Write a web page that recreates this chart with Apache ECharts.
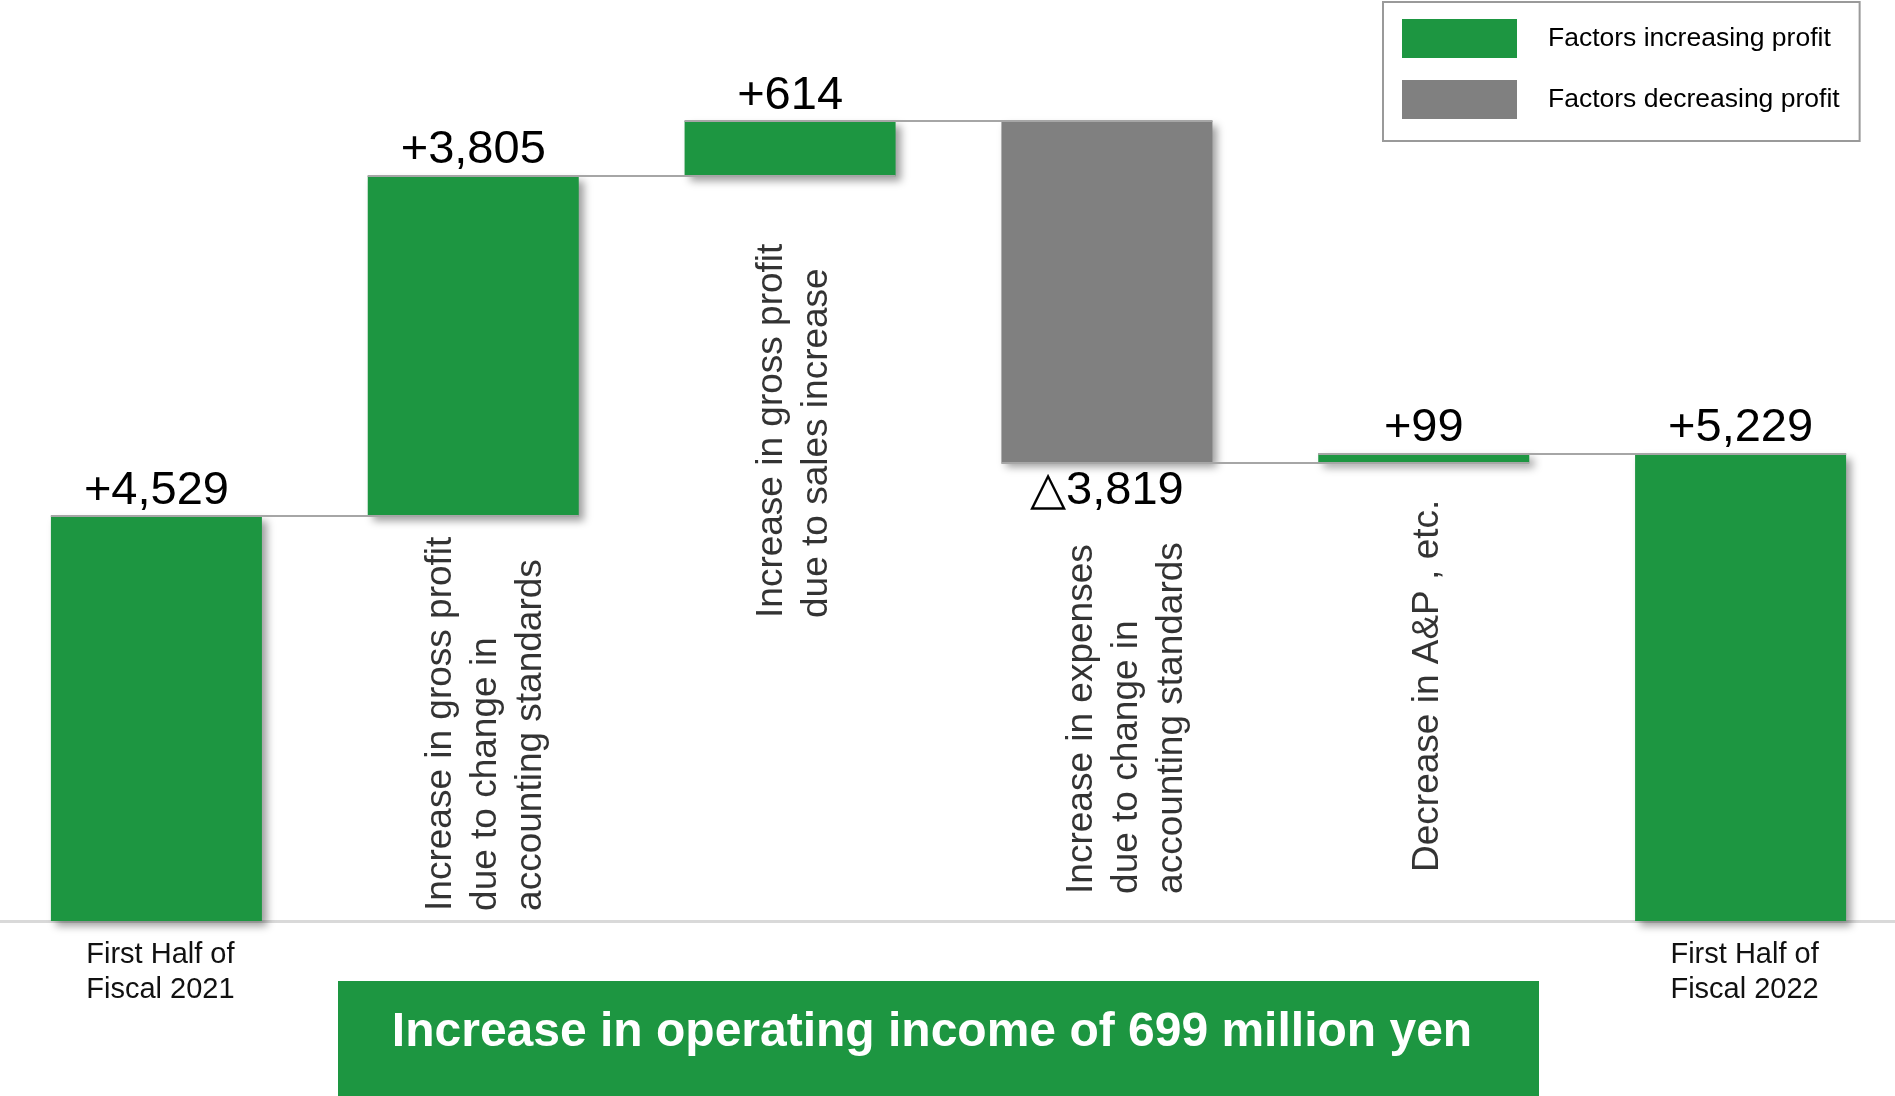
<!DOCTYPE html>
<html>
<head>
<meta charset="utf-8">
<title>Operating income bridge</title>
<script src="https://cdn.jsdelivr.net/npm/echarts@6/dist/echarts.min.js"></script>
<style>
  html, body { margin: 0; padding: 0; background: #ffffff; }
  #chart { width: 1895px; height: 1096px; }
</style>
</head>
<body>
<div id="chart"></div>
<script>
// ---- data (million yen) ----
const categories = [
  'First Half of\nFiscal 2021',
  'Increase in gross profit\ndue to change in\naccounting standards',
  'Increase in gross profit\ndue to sales increase',
  'Increase in expenses\ndue to change in\naccounting standards',
  'Decrease in A&P , etc.',
  'First Half of\nFiscal 2022'
];
const changes = [4529, 3805, 614, -3819, 99, 5229];
const isTotal = [true, false, false, false, false, true];
const seriesNames = ['Factors increasing profit', 'Factors decreasing profit'];
const summaryText = 'Increase in operating income of 699 million yen';

// ---- layout ----
const FONT = '"Liberation Sans", Arial, Helvetica, sans-serif';
const GREEN = '#1d9641';
const GREY = '#808080';
// where the rotated factor captions start (value units) and their sideways nudge (px)
const captionBase = { 1: 107, 2: 3384, 3: 297, 4: 543 };
const captionShift = { 1: 13, 2: 5, 3: 20, 4: 5 };
const BAR_FRAC = 2 / 3;   // bar width as a share of the category band

// ---- waterfall stacks ----
const base = [], up = [], down = [], levels = [];
let running = 0;
changes.forEach((v, i) => {
  if (isTotal[i]) {
    base.push(0); up.push(v); down.push('-');
    running = v;
  } else if (v >= 0) {
    base.push(running); up.push(v); down.push('-');
    running += v;
  } else {
    base.push(running + v); up.push('-'); down.push(-v);
    running += v;
  }
  levels.push(running);
});

const fmt = n => Math.abs(n).toLocaleString('en-US');

// connector lines between neighbouring bars at the running total
const half = BAR_FRAC / 2;
const connectors = [];
for (let i = 0; i < categories.length - 1; i++) {
  connectors.push({ coords: [[i + 0.5 - half, levels[i]], [i + 1.5 + half, levels[i]]] });
}

// captions are rotated 90deg, so a sideways nudge is the label's local y offset
const captionData = Object.keys(captionBase).map(k => ({
  value: [Number(k), captionBase[k]],
  label: { offset: [0, captionShift[k]] }
}));

const barShadow = {
  shadowColor: 'rgba(0,0,0,0.38)',
  shadowBlur: 8,
  shadowOffsetX: 5,
  shadowOffsetY: 5
};

const valueLabel = {
  show: true,
  fontFamily: FONT,
  fontSize: 47,
  color: '#000'
};

const chart = echarts.init(document.getElementById('chart'), null, { renderer: 'canvas' });

chart.setOption({
  backgroundColor: '#ffffff',
  animation: false,
  textStyle: { fontFamily: FONT },
  grid: {
    left: -2, width: 1901, top: 27, bottom: 175,
    containLabel: false, outerBoundsMode: 'none'
  },
  legend: {
    data: seriesNames,
    orient: 'vertical',
    left: 1383,
    top: 2,
    padding: [17, 20, 22, 19],
    itemGap: 22,
    itemWidth: 115,
    itemHeight: 39,
    icon: 'rect',
    borderColor: '#9a9a9a',
    borderWidth: 2,
    backgroundColor: '#ffffff',
    itemStyle: { shadowBlur: 0, shadowOffsetX: 0, shadowOffsetY: 0, shadowColor: 'transparent' },
    textStyle: { fontFamily: FONT, fontSize: 26.5, color: '#000', padding: [2, 0, 0, 26] }
  },
  xAxis: [
    {
      type: 'category',
      data: categories,
      axisLine: { show: true, lineStyle: { color: '#d9d9d9', width: 3 } },
      axisTick: { show: false },
      axisLabel: {
        interval: 0,
        margin: 16,
        padding: [0, 0, 0, 8],
        fontFamily: FONT,
        fontSize: 29,
        lineHeight: 35,
        color: '#111',
        formatter: (val, idx) => (isTotal[idx] ? val : '')
      }
    },
    { type: 'value', min: 0, max: categories.length, show: false }
  ],
  yAxis: { type: 'value', min: 0, max: 10000, show: false },
  series: [
    {
      name: 'base',
      type: 'bar',
      stack: 'flow',
      barWidth: 211,
      silent: true,
      itemStyle: { color: 'transparent' },
      data: base
    },
    {
      name: seriesNames[0],
      type: 'bar',
      stack: 'flow',
      barWidth: 211,
      itemStyle: Object.assign({ color: GREEN }, barShadow),
      label: Object.assign({}, valueLabel, {
        position: 'top',
        distance: 2,
        formatter: p => '+' + fmt(p.value)
      }),
      data: up
    },
    {
      name: seriesNames[1],
      type: 'bar',
      stack: 'flow',
      barWidth: 211,
      itemStyle: Object.assign({ color: GREY }, barShadow),
      label: Object.assign({}, valueLabel, {
        position: 'bottom',
        distance: 5,
        formatter: p => '\u25B3' + fmt(p.value)
      }),
      data: down
    },
    {
      type: 'lines',
      coordinateSystem: 'cartesian2d',
      xAxisIndex: 1,
      yAxisIndex: 0,
      silent: true,
      z: 5,
      lineStyle: { color: '#a6a6a6', width: 2, opacity: 1, type: 'solid' },
      data: connectors
    },
    {
      type: 'scatter',
      xAxisIndex: 0,
      yAxisIndex: 0,
      symbolSize: 1,
      itemStyle: { color: 'transparent' },
      silent: true,
      z: 6,
      label: {
        show: true,
        position: [0, 0],
        rotate: 90,
        align: 'left',
        verticalAlign: 'middle',
        fontFamily: FONT,
        fontSize: 37,
        lineHeight: 45,
        color: '#000',
        formatter: p => categories[p.value[0]]
      },
      data: captionData
    }
  ],
  graphic: [
    {
      type: 'rect',
      left: 338,
      top: 981,
      shape: { width: 1201, height: 115 },
      style: { fill: GREEN },
      silent: true
    },
    {
      type: 'text',
      x: 932,
      y: 1033,
      style: {
        text: summaryText,
        fill: '#ffffff',
        fontFamily: FONT,
        fontSize: 48,
        fontWeight: 'bold',
        align: 'center',
        verticalAlign: 'middle'
      },
      silent: true
    }
  ]
});
</script>
</body>
</html>
